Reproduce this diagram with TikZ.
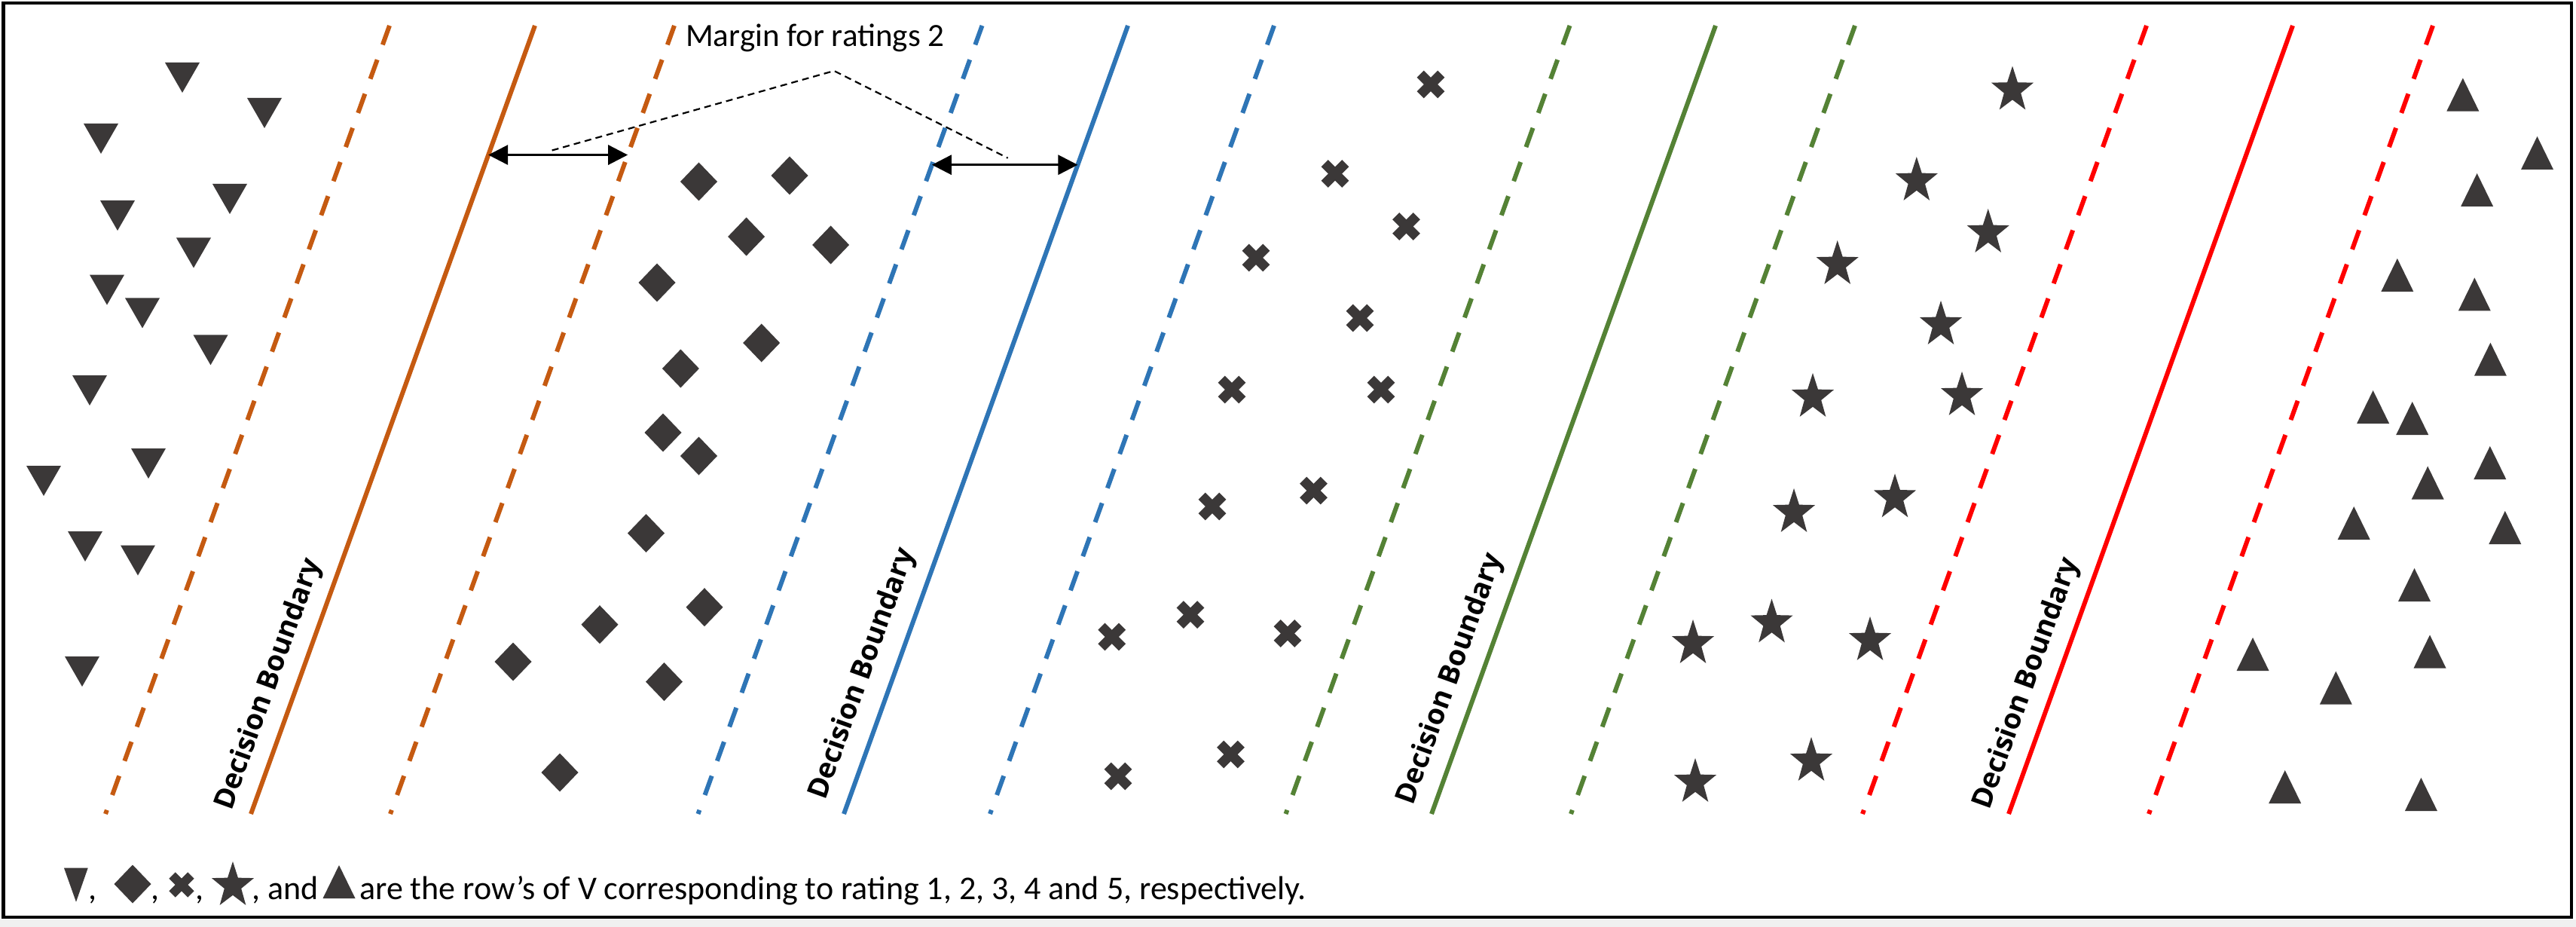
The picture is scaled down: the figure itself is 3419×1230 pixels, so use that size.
\documentclass[tikz,border=0pt]{standalone}
\usepackage{fontspec}
\setmainfont{Carlito}
\newfontfamily\dbfont{Open Sans}
\usetikzlibrary{arrows.meta,calc}
\definecolor{corange}{RGB}{197,90,17}
\definecolor{cblue}{RGB}{46,117,182}
\definecolor{cgreen}{RGB}{84,130,53}
\definecolor{cred}{RGB}{255,0,0}
\definecolor{markgray}{RGB}{59,56,56}
\tikzset{
  mk/.style={fill=markgray},
  sline/.style={line width=6pt},
  dline/.style={line width=6pt, dash pattern=on 27pt off 21.1pt},
  marrow/.style={line width=3pt, arrows={Triangle[length=26pt,width=26pt]-Triangle[length=26pt,width=26pt]}},
  callout/.style={line width=2.2pt, dash pattern=on 9pt off 6pt},
  dblabel/.style={inner sep=0pt, rotate=70.18, anchor=base west, font=\dbfont\bfseries\fontsize{37.5}{40}\selectfont},
  mtext/.style={inner sep=0pt, anchor=base west, font=\fontsize{43}{48}\selectfont},
  ltext/.style={inner sep=0pt, anchor=base west, font=\fontsize{44}{48}\selectfont},
  pics/tridown/.style={code={\fill[mk] (-23,-20) -- (23,-20) -- (0,20) -- cycle;}},
  pics/triup/.style={code={\fill[mk] (-21.5,22) -- (21.5,22) -- (0,-22) -- cycle;}},
  pics/diam/.style={code={\fill[mk] (0,-25.5) -- (24.5,0) -- (0,25.5) -- (-24.5,0) -- cycle;}},
  pics/xcross/.style={code={
    \fill[mk,rotate=45] (-19.5,-6.5) rectangle (19.5,6.5);
    \fill[mk,rotate=-45] (-19.5,-6.5) rectangle (19.5,6.5);}},
  pics/starp/.style={code={
    \fill[mk,shift={(0,3)},xscale=0.92,yscale=-1] (90:32) -- (126:12.8) -- (162:32) -- (198:12.8) -- (234:32) -- (270:12.8) -- (306:32) -- (342:12.8) -- (18:32) -- (54:12.8) -- cycle;}},
}
\newcommand{\drawBand}[5]{%
  \coordinate (#1LT) at (#3,34); \coordinate (#1LB) at ({#3-377},1080);
  \coordinate (#1ST) at (#4,34); \coordinate (#1SB) at ({#4-377},1080);
  \coordinate (#1RT) at (#5,34); \coordinate (#1RB) at ({#5-377},1080);
  \draw[dline,#2] (#1LT) -- (#1LB);
  \draw[sline,#2] (#1ST) -- (#1SB);
  \draw[dline,#2] (#1RT) -- (#1RB);
}
\begin{document}
\begin{tikzpicture}[x=1pt,y=-1pt]
\useasboundingbox (0,0) rectangle (3419,1230);
\fill[white] (0,0) rectangle (3419,1230);
\fill[gray!12] (0,1220) rectangle (3419,1230);
\draw[line width=4.5pt] (4.3,4) rectangle (3413,1217);

% bands
\drawBand{o}{corange}{517}{710}{895}
\drawBand{b}{cblue}{1303.5}{1497}{1691}
\drawBand{g}{cgreen}{2083.5}{2277}{2462}
\drawBand{r}{cred}{2849}{3043}{3229}

% decision boundary labels
\node[dblabel] (oLab) at ($(oSB)+(-26,-3)$) {Decision Boundary};
\node[dblabel] (bLab) at ($(bSB)+(-25,-17)$) {Decision Boundary};
\node[dblabel] (gLab) at ($(gSB)+(-25,-10)$) {Decision Boundary};
\node[dblabel] (rLab) at ($(rSB)+(-26,-4)$) {Decision Boundary};

% margin arrows
\coordinate (oA1) at ($(oST)!0.164!(oSB)$);
\coordinate (oA2) at ($(oRT)!0.164!(oRB)$);
\coordinate (bA1) at ($(bLT)!0.1766!(bLB)$);
\coordinate (bA2) at ($(bST)!0.1766!(bSB)$);
\draw[marrow] (oA1) -- (oA2);
\draw[marrow] (bA1) -- (bA2);

% callout
\node[mtext] (mlabel) at (910,62) {Margin for ratings 2};
\coordinate (cApex) at (1107,94);
\coordinate (cL) at ($(oA1)!0.5!(oA2)+(-8,-6)$);
\coordinate (cR) at ($(bA1)!0.5!(bA2)+(4,-9)$);
\draw[callout] (cL) -- (cApex) -- (cR);

% rating 1: down triangles
\foreach \x/\y in {242/103,351/150,134/184,305/264,156/286,257/335.5,142/384.6,189/415.4,279.5/464.4,119/518,197/615,58/638,113/725,183/743.5,109/891}
  \pic at (\x,\y) {tridown};

% rating 2: diamonds
\foreach \x/\y in {927.5/241,1048/233,990.6/314,1102.6/325,872/375,1010.7/455,903.4/489,880/574,927.5/605,857.5/707.5,796/828.7,935/805.7,681/878,881.5/904.6,743/1025}
  \pic at (\x,\y) {diam};

% rating 3: crosses
\foreach \x/\y in {1899/112,1772/230.5,1866.5/300.5,1667/342,1805/422,1635/517,1833/517,1609/672,1743.5/651,1475.7/845,1580/815.6,1709/840.5,1484/1030,1633.5/1001}
  \pic at (\x,\y) {xcross};

% rating 4: stars
\foreach \x/\y in {2671/116.6,2543.8/237,2638.7/306,2438.7/348,2576/428,2406/524,2604/522,2381/677,2515/657.4,2247/851,2351.5/823.5,2482/847,2250/1035,2404/1007}
  \pic at (\x,\y) {starp};

% rating 5: up triangles
\foreach \x/\y in {3268.8/125.6,3367.5/203,3287.6/252,3181.8/365,3284.3/390.5,3305.4/476.7,3149.6/540,3201.7/555,3304.8/614,3222.2/640.7,3124.2/694,3324.8/700,3204.5/776,2990/868,3225/864.5,3100.3/912.7,3032.7/1044,3213.4/1054}
  \pic at (\x,\y) {triup};

% legend
\fill[mk] (85,1151.7) -- (116.7,1151.7) -- (101,1196.7) -- cycle;
\node[ltext] (lc1) at (117,1193) {,};
\pic at (176,1173) {diam};
\node[ltext] (lc2) at (200,1193) {,};
\pic[scale=0.9] at (241,1174) {xcross};
\node[ltext] (lc3) at (259,1193) {,};
\pic at (309,1172) {starp};
\node[ltext] (land) at (334,1193) {, and};
\pic at (450,1170) {triup};
\node[ltext] (ltext) at (477,1193) {are the row’s of V corresponding to rating 1, 2, 3, 4 and 5, respectively.};
\end{tikzpicture}
\end{document}
